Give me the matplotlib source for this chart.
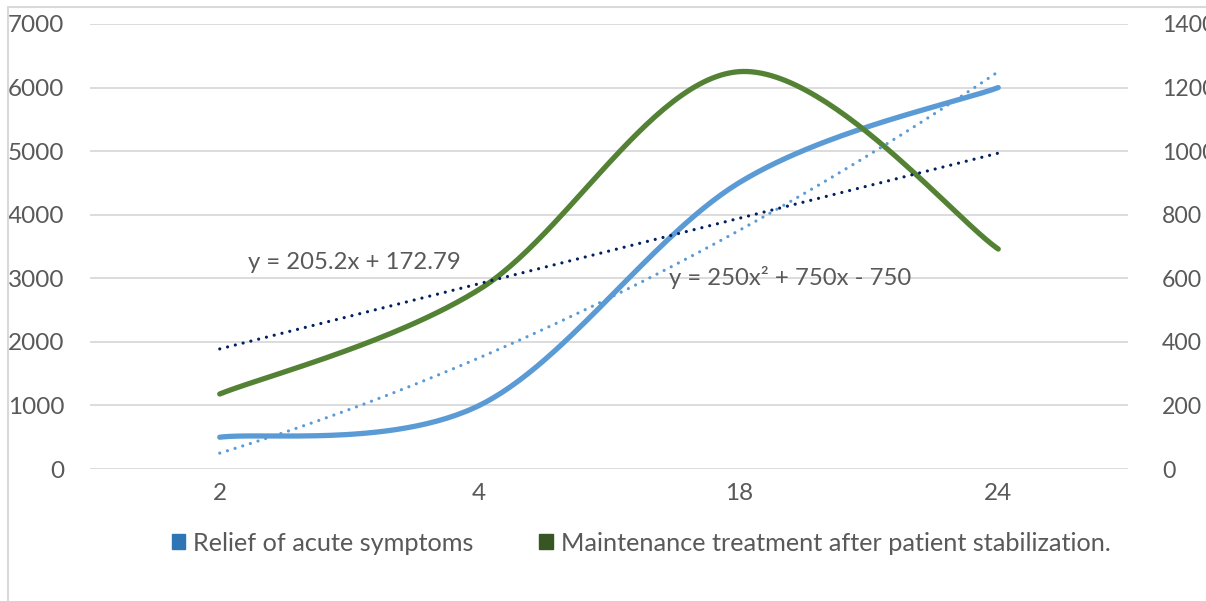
import numpy as np
import matplotlib
matplotlib.use('Agg')
import matplotlib.pyplot as plt
from matplotlib.patches import Patch, Rectangle

plt.rcParams['font.family'] = ['Lato', 'DejaVu Sans']

categories = ['2', '4', '18', '24']
relief = [500, 1000, 4500, 6000]          # left axis
maintenance = [236, 565, 1250, 692]       # right axis
left_ticks = [0, 1000, 2000, 3000, 4000, 5000, 6000, 7000]
right_ticks = [0, 200, 400, 600, 800, 1000, 1200, 1400]

TEXT = '#595959'
GRID = '#D9D9D9'


def smooth(xs, ys, n=60):
    # bezier smoothing like office charts
    pts = np.column_stack([xs, ys]).astype(float)
    P = np.vstack([pts[0], pts, pts[-1]])
    out = []
    for i in range(1, len(P) - 2):
        p0, p1, p2, p3 = P[i - 1], P[i], P[i + 1], P[i + 2]
        c1 = p1 + (p2 - p0) / 6
        c2 = p2 - (p3 - p1) / 6
        t = np.linspace(0, 1, n)[:, None]
        seg = (1 - t) ** 3 * p1 + 3 * (1 - t) ** 2 * t * c1 + 3 * (1 - t) * t ** 2 * c2 + t ** 3 * p2
        out.append(seg if i == 1 else seg[1:])
    return np.vstack(out)


x = np.arange(1, len(categories) + 1)

fig = plt.figure(figsize=(12.06, 6.01), dpi=100)
fig.patches.append(Rectangle((8 / 1206, -0.5), 2, 1.5 - 7 / 601, transform=fig.transFigure,
                             fill=False, edgecolor=GRID, linewidth=1.5))
ax = fig.add_axes([90 / 1206, 132 / 601, 1038 / 1206, 445 / 601])
ax2 = ax.twinx()

ax.set_xlim(0.5, len(categories) + 0.5)
ax.set_ylim(0, 7000)
ax2.set_ylim(0, 1400)
ax.set_yticks(left_ticks)
ax2.set_yticks(right_ticks)
ax.set_xticks(x)
ax.set_xticklabels(categories)
ax.grid(axis='y', color=GRID, linewidth=1.3)
ax.set_axisbelow(True)
for a in (ax, ax2):
    for s in a.spines.values():
        s.set_visible(False)
    a.tick_params(length=0, colors=TEXT, labelsize=17.5)
ax.tick_params(axis='y', pad=18.5)
ax2.tick_params(axis='y', pad=24.5, labelsize=16.6)
ax.tick_params(axis='x', pad=10)

sb = smooth(x, relief)
ax.plot(sb[:, 0], sb[:, 1], color='#5B9BD5', linewidth=3.8, solid_capstyle='round')
sg = smooth(x, maintenance)
ax2.plot(sg[:, 0], sg[:, 1], color='#548235', linewidth=3.8, solid_capstyle='round')

# trendlines
xt = np.linspace(1, len(categories), 100)
pb = np.polyfit(x, relief, 2)
ax2.plot(xt, np.polyval(pb, xt), transform=ax.transData, color='#5B9BD5', linewidth=2.3,
         linestyle=(0, (0.01, 2.5)), dash_capstyle='round')
pg = np.polyfit(x, maintenance, 1)
ax2.plot(xt, np.polyval(pg, xt), color='#002060', linewidth=2.3,
         linestyle=(0, (0.01, 2.5)), dash_capstyle='round')

ax.text(1.11, 3250, 'y = 205.2x + 172.79', color=TEXT, fontsize=17.2, ha='left', va='center')
ax.text(2.73, 3020, 'y = 250x² + 750x - 750', color=TEXT, fontsize=17.2, ha='left', va='center')

handles = [Patch(facecolor='#2E75B6', edgecolor='#2E75B6', label='Relief of acute symptoms'),
           Patch(facecolor='#375623', edgecolor='#375623',
                 label='Maintenance treatment after patient stabilization.')]
leg = fig.legend(handles=handles, loc='center', bbox_to_anchor=(0.5315, 0.0965), ncol=2,
                 frameon=False, fontsize=18.2, handlelength=0.55, handleheight=0.55,
                 handletextpad=0.3, columnspacing=2.6)
for t in leg.get_texts():
    t.set_color(TEXT)

plt.savefig('out.png', dpi=100)
